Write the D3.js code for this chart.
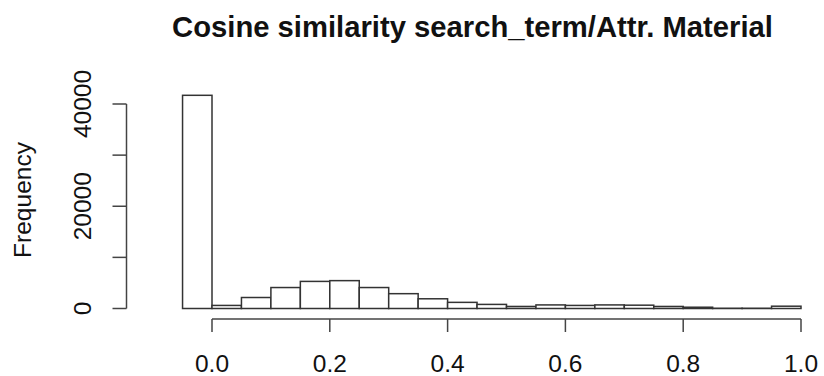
<!DOCTYPE html>
<html>
<head>
<meta charset="utf-8">
<script src="https://cdn.jsdelivr.net/npm/d3@7"></script>
<style>
  body { margin: 0; background: #fff; }
  text { font-family: "Liberation Sans", Arial, sans-serif; fill: #111; }
</style>
</head>
<body>
<script>
// histogram bins (left edges), width 0.05
var binStarts = [-0.1, -0.05, 0.0, 0.05, 0.1, 0.15, 0.2, 0.25, 0.3, 0.35, 0.4,
                 0.45, 0.5, 0.55, 0.6, 0.65, 0.7, 0.75, 0.8, 0.85, 0.9, 0.95];
var counts = [0, 41700, 600, 2150, 4100, 5300, 5450, 4100, 2900, 1900, 1200,
              800, 400, 700, 600, 700, 650, 400, 250, 50, 50, 450];
var binWidth = 0.05;
var xTicks = [0, 0.2, 0.4, 0.6, 0.8, 1.0];
var yTicks = [0, 10000, 20000, 30000, 40000];
var yLabelTicks = [0, 20000, 40000];

var W = 824, H = 376;
var svg = d3.select("body").append("svg")
    .attr("width", W).attr("height", H);

var x = d3.scaleLinear().domain([0, 1]).range([212, 801]);
var y = d3.scaleLinear().domain([0, 40000]).range([308.5, 104]);

// bars
svg.selectAll(".bar")
    .data(binStarts)
    .enter().append("rect")
    .attr("class", "bar")
    .attr("x", function(d) { return x(d); })
    .attr("y", function(d, i) { return y(counts[i]); })
    .attr("width", function(d) { return x(d + binWidth) - x(d); })
    .attr("height", function(d, i) { return y(0) - y(counts[i]); })
    .attr("fill", "#fff")
    .attr("stroke", "#333")
    .attr("stroke-width", 1.5);

// x axis
var xg = svg.append("g").attr("transform", "translate(0,319)");
xg.append("line")
    .attr("x1", x(0)).attr("x2", x(1))
    .attr("stroke", "#444").attr("stroke-width", 1.5);
xg.selectAll(".xt").data(xTicks).enter().append("line")
    .attr("x1", function(d) { return x(d); })
    .attr("x2", function(d) { return x(d); })
    .attr("y1", 0).attr("y2", 13)
    .attr("stroke", "#444").attr("stroke-width", 1.5);
xg.selectAll(".xl").data(xTicks).enter().append("text")
    .attr("x", function(d) { return x(d); })
    .attr("y", 53)
    .attr("text-anchor", "middle")
    .attr("font-size", 24.5)
    .text(function(d) { return d3.format(".1f")(d); });

// y axis
var yg = svg.append("g").attr("transform", "translate(126.5,0)");
yg.append("line")
    .attr("y1", y(0)).attr("y2", y(40000))
    .attr("stroke", "#444").attr("stroke-width", 1.5);
yg.selectAll(".yt").data(yTicks).enter().append("line")
    .attr("y1", function(d) { return y(d); })
    .attr("y2", function(d) { return y(d); })
    .attr("x1", 0).attr("x2", -14)
    .attr("stroke", "#444").attr("stroke-width", 1.5);
yg.selectAll(".yl").data(yLabelTicks).enter().append("text")
    .attr("transform", function(d) { return "translate(-36," + y(d) + ") rotate(-90)"; })
    .attr("text-anchor", "middle")
    .attr("font-size", 24.5)
    .text(function(d) { return d; });

// axis title
svg.append("text")
    .attr("transform", "translate(31,200) rotate(-90)")
    .attr("text-anchor", "middle")
    .attr("font-size", 24.5)
    .text("Frequency");

// main title, sized to span the same width as the original
var title = svg.append("text")
    .attr("x", 472.5).attr("y", 36.5)
    .attr("text-anchor", "middle")
    .attr("font-size", 28)
    .attr("font-weight", "bold")
    .text("Cosine similarity search_term/Attr. Material");
var tw = title.node().getComputedTextLength();
title.attr("font-size", 28 * 601 / tw);
</script>
</body>
</html>
